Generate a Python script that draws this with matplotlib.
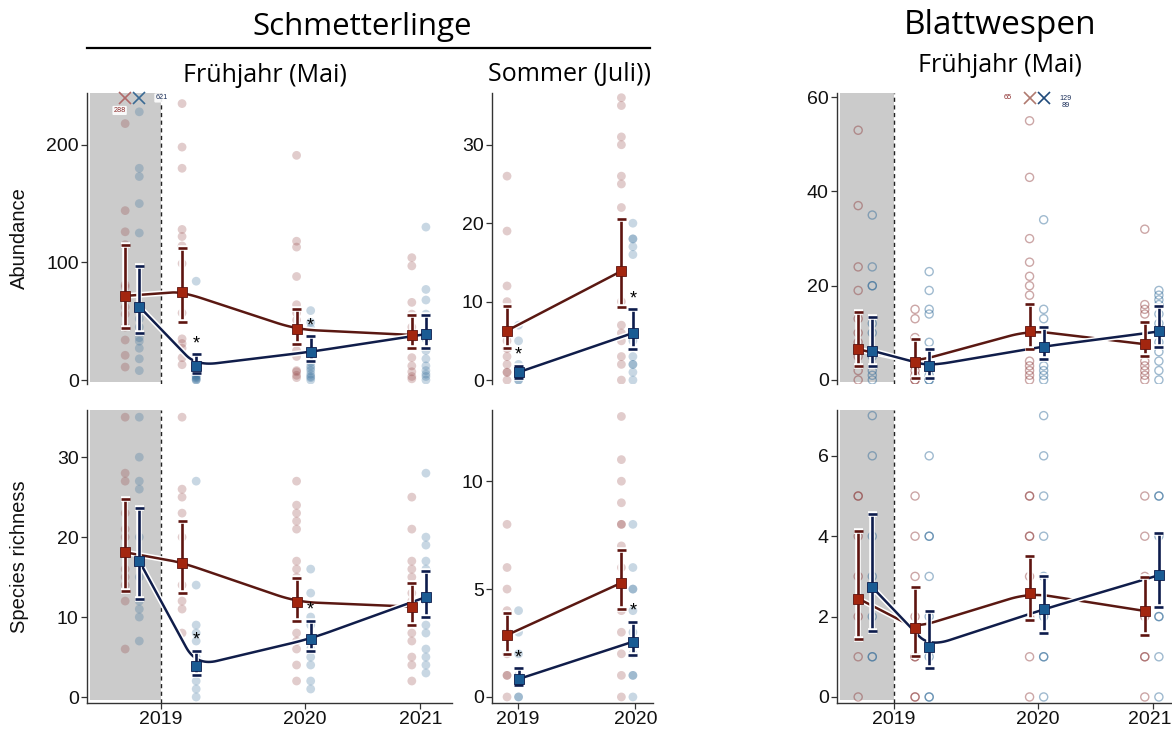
import numpy as np
import matplotlib
matplotlib.use("Agg")
import matplotlib.pyplot as plt
from matplotlib import patheffects as pe
from matplotlib.lines import Line2D
from matplotlib.patches import Rectangle
from matplotlib.transforms import blended_transform_factory, ScaledTranslation

plt.rcParams['font.family'] = ['Liberation Sans', 'DejaVu Sans']

# ---------------------------------------------------------------- data
# sampling rounds on a shared time axis (2019 tick = 0)
spring_pos = [-0.20, 0.195, 0.99, 1.79]
summer_pos = [-0.043, 0.93]
spring_ticks = [0.0, 1.0, 1.8]
spring_ticklabels = ["2019", "2020", "2021"]
summer_ticks = [0.0, 1.0]
summer_ticklabels = ["2019", "2020"]

# Schmetterlinge, Frühjahr: abundance
bf_spr_ab_ctrl_mean = [71.5, 75.0, 43.0, 38.3]
bf_spr_ab_ctrl_lo = [44.0, 49.7, 30.4, 27.0]
bf_spr_ab_ctrl_hi = [115.0, 112.6, 60.7, 55.0]
bf_spr_ab_trt_mean = [62.4, 12.2, 24.0, 39.0]
bf_spr_ab_trt_lo = [40.0, 6.0, 16.0, 27.0]
bf_spr_ab_trt_hi = [96.5, 21.8, 37.0, 55.0]
bf_spr_ab_ctrl_pts = [
    [218, 144, 126, 115, 81, 79, 70, 62, 56, 45, 34, 21, 11],
    [235, 198, 180, 128, 122, 114, 99, 57, 35, 31, 27, 19, 13],
    [191, 118, 113, 88, 64, 57, 51, 25, 20, 8, 7, 4, 2],
    [104, 97, 66, 56, 45, 35, 19, 12, 7, 3, 1],
]
bf_spr_ab_trt_pts = [
    [228, 180, 173, 150, 125, 60, 52, 45, 36, 33, 27, 18, 8],
    [84, 10, 8, 6, 4, 3, 2, 1, 0, 0],
    [59, 49, 44, 15, 12, 10, 8, 5, 3, 2, 0],
    [130, 77, 68, 56, 35, 25, 18, 12, 8, 5, 3, 0],
]
bf_spr_ab_stars = [False, True, True, False]

# Schmetterlinge, Frühjahr: species richness
bf_spr_sr_ctrl_mean = [18.1, 16.8, 11.9, 11.3]
bf_spr_sr_ctrl_lo = [13.2, 13.0, 9.5, 9.0]
bf_spr_sr_ctrl_hi = [24.8, 22.0, 14.9, 14.3]
bf_spr_sr_trt_mean = [17.0, 3.9, 7.3, 12.5]
bf_spr_sr_trt_lo = [12.3, 2.75, 5.7, 10.0]
bf_spr_sr_trt_hi = [23.6, 5.8, 9.5, 15.7]
bf_spr_sr_ctrl_pts = [
    [35, 28, 27, 23, 21, 20, 18, 16, 15, 14, 12, 6],
    [35, 26, 25, 23, 20, 17, 14, 12, 11, 8],
    [27, 24, 23, 22, 21, 17, 16, 15, 8, 7, 6, 4, 2],
    [25, 21, 17, 16, 15, 13, 12, 11, 8, 7, 5, 4, 2],
]
bf_spr_sr_trt_pts = [
    [35, 30, 27, 26, 20, 17, 15, 12, 11, 10, 7],
    [27, 14, 9, 8, 7, 5, 4, 3, 2, 1, 0],
    [16, 13, 10, 9, 7, 6, 5, 4, 2, 1],
    [28, 20, 19, 17, 16, 12, 9, 8, 6, 5, 4, 3],
]
bf_spr_sr_stars = [False, True, True, False]

# Schmetterlinge, Sommer: abundance
bf_sum_ab_ctrl_mean = [6.3, 13.9]
bf_sum_ab_ctrl_lo = [4.1, 9.3]
bf_sum_ab_ctrl_hi = [9.5, 20.5]
bf_sum_ab_trt_mean = [1.0, 6.0]
bf_sum_ab_trt_lo = [0.3, 4.0]
bf_sum_ab_trt_hi = [1.8, 9.0]
bf_sum_ab_ctrl_pts = [
    [26, 19, 12, 10, 5, 4, 3, 2, 1, 1, 0],
    [36, 35, 31, 30, 26, 25, 22, 10, 7, 6, 5, 3, 2, 0],
]
bf_sum_ab_trt_pts = [
    [7, 5, 2, 1, 0, 0],
    [20, 18, 18, 17, 16, 5, 3, 2, 2, 1, 0],
]
bf_sum_ab_stars = [True, True]

# Schmetterlinge, Sommer: species richness
bf_sum_sr_ctrl_mean = [2.87, 5.29]
bf_sum_sr_ctrl_lo = [2.0, 4.07]
bf_sum_sr_ctrl_hi = [3.87, 6.8]
bf_sum_sr_trt_mean = [0.83, 2.56]
bf_sum_sr_trt_lo = [0.55, 1.94]
bf_sum_sr_trt_hi = [1.33, 3.49]
bf_sum_sr_ctrl_pts = [
    [8, 6, 5, 4, 3, 2, 1, 1, 0],
    [13, 11, 10, 9, 8, 8, 7, 6, 4, 3, 2, 1, 0],
]
bf_sum_sr_trt_pts = [
    [4, 3, 2, 1, 0, 0],
    [8, 6, 5, 5, 4, 3, 2, 1, 1, 0],
]
bf_sum_sr_stars = [True, True]

# Blattwespen, Frühjahr: abundance
sf_spr_ab_ctrl_mean = [6.5, 3.9, 10.5, 7.6]
sf_spr_ab_ctrl_lo = [3.0, 0.5, 6.5, 5.0]
sf_spr_ab_ctrl_hi = [14.5, 8.7, 16.2, 12.3]
sf_spr_ab_trt_mean = [6.2, 3.0, 7.1, 10.3]
sf_spr_ab_trt_lo = [3.0, 0.5, 4.4, 6.9]
sf_spr_ab_trt_hi = [13.3, 6.6, 11.2, 15.6]
sf_spr_ab_ctrl_pts = [
    [53, 37, 24, 19, 13, 10, 8, 5, 2, 0],
    [15, 13, 9, 3, 2, 1, 0, 0],
    [55, 43, 30, 25, 22, 20, 18, 4, 3, 2, 1, 0],
    [32, 16, 15, 14, 4, 3, 2, 1, 0],
]
sf_spr_ab_trt_pts = [
    [35, 24, 20, 20, 12, 10, 5, 2, 1, 0],
    [23, 19, 15, 14, 8, 3, 1, 0, 0],
    [34, 15, 13, 3, 2, 1, 0],
    [19, 18, 17, 16, 14, 12, 10, 8, 6, 4, 2, 0],
]

# Blattwespen, Frühjahr: species richness
sf_spr_sr_ctrl_mean = [2.45, 1.72, 2.59, 2.14]
sf_spr_sr_ctrl_lo = [1.44, 1.03, 1.92, 1.53]
sf_spr_sr_ctrl_hi = [4.14, 2.74, 3.51, 2.98]
sf_spr_sr_trt_mean = [2.73, 1.25, 2.18, 3.03]
sf_spr_sr_trt_lo = [1.64, 0.73, 1.58, 2.25]
sf_spr_sr_trt_hi = [4.54, 2.15, 3.01, 4.07]
sf_spr_sr_ctrl_pts = [
    [5, 5, 4, 3, 2, 1, 0],
    [5, 4, 3, 2, 1, 1, 0, 0],
    [5, 5, 4, 4, 3, 2, 1, 0],
    [5, 4, 3, 2, 1, 1, 0],
]
sf_spr_sr_trt_pts = [
    [7, 6, 4, 3, 2, 1, 1],
    [6, 4, 4, 3, 2, 1, 0, 0],
    [7, 6, 5, 4, 3, 2, 1, 1, 0],
    [5, 5, 4, 3, 2, 2, 1, 0],
]

# values beyond the axis range (round index, label text)
bf_spr_ab_ctrl_off = [(0, "288")]
bf_spr_ab_trt_off = [(0, "621")]
sf_spr_ab_ctrl_off = [(2, "65")]
sf_spr_ab_trt_off = [(2, "129\n89")]

# ---------------------------------------------------------------- style
W, H = 1172, 751
CTRL_PT, TRT_PT = '#8e3b3b', '#2c6796'
CTRL_MEAN, TRT_MEAN = '#a3260f', '#1a5b93'
CTRL_BAR, TRT_BAR = '#5e1410', '#0d1c4c'
CTRL_LINE, TRT_LINE = '#5a1812', '#101d4a'
AX_COL = '#333333'
DODGE = 0.049
HALO = [pe.withStroke(linewidth=4.0, foreground='white')]

fig = plt.figure(figsize=(W / 100, H / 100), dpi=100)


def add_axes(l, t, r, b):
    return fig.add_axes([l / W, 1 - b / H, (r - l) / W, (b - t) / H])


def rounded_path(x, y, cut=0.18, n=20):
    """Polyline through the means with softly rounded interior corners."""
    p = np.column_stack([x, y]).astype(float)
    out = [p[0]]
    for i in range(1, len(p) - 1):
        a = p[i] + cut * (p[i - 1] - p[i])
        b = p[i] + cut * (p[i + 1] - p[i])
        t = np.linspace(0, 1, n)[:, None]
        curve = (1 - t) ** 2 * a + 2 * (1 - t) * t * p[i] + t ** 2 * b
        out.extend(curve)
    out.append(p[-1])
    out = np.array(out)
    return out[:, 0], out[:, 1]


def draw_series(ax, pos, mean, lo, hi, pts, side, pt_col, mean_col, bar_col,
                line_col, open_pts, stars=None):
    xs = [p + side * DODGE for p in pos]
    for x, vals in zip(xs, pts):
        if open_pts:
            ax.scatter([x] * len(vals), vals, s=34, facecolors='none',
                       edgecolors=pt_col, linewidths=1.0, alpha=0.45, zorder=2)
        else:
            ax.scatter([x] * len(vals), vals, s=40, color=pt_col,
                       edgecolors='none', alpha=0.26, zorder=2)
    sx, sy = rounded_path(xs, mean)
    ax.plot(sx, sy, color=line_col, lw=1.8, zorder=3, path_effects=HALO,
            solid_capstyle='round')
    mean = np.asarray(mean)
    yerr = [mean - np.asarray(lo), np.asarray(hi) - mean]
    cont = ax.errorbar(xs, mean, yerr=yerr, fmt='none', ecolor=bar_col,
                       elinewidth=1.9, capsize=3.2, capthick=1.9, zorder=4)
    for art in list(cont.lines[1]) + list(cont.lines[2]):
        art.set_path_effects(HALO)
    ax.plot(xs, mean, 's', ms=6.5, color=mean_col, mec=bar_col, mew=0.6,
            zorder=5)
    if stars:
        for x, h, s in zip(xs, hi, stars):
            if s:
                ax.annotate('*', (x, h), xytext=(0, 1.5), textcoords='offset points',
                            ha='center', va='bottom', fontsize=13, color='black',
                            zorder=6)


def draw_offscale(ax, pos, side, items, col, label_col, dx, dy):
    tr = blended_transform_factory(ax.transData, ax.transAxes)
    for idx, label in items:
        x = pos[idx] + side * DODGE
        ax.plot([x], [0.983], marker='x', ms=8, mew=1.2, color=col,
                transform=tr, clip_on=False, zorder=6)
        ax.annotate(label, (x, 0.983), xycoords=tr, xytext=(dx, dy),
                    textcoords='offset points', ha='center', va='center',
                    fontsize=5.2, color=label_col, linespacing=1.0,
                    bbox=dict(boxstyle='round,pad=0.15', fc='white', ec='none', alpha=0.9),
                    zorder=7, annotation_clip=False)


def style_axes(ax, xlim, ylim, yticks, bottom, xticks=None, xticklabels=None):
    ax.set_xlim(*xlim)
    ax.set_ylim(*ylim)
    ax.set_yticks(yticks)
    ax.set_yticklabels([str(v) for v in yticks])
    for s in ('top', 'right'):
        ax.spines[s].set_visible(False)
    ax.spines['left'].set_color(AX_COL)
    ax.spines['left'].set_linewidth(1.0)
    ax.tick_params(axis='both', direction='out', length=4, width=0.9,
                   color=AX_COL, labelcolor='#111111', labelsize=14, pad=2)
    if bottom:
        ax.spines['bottom'].set_color(AX_COL)
        ax.spines['bottom'].set_linewidth(1.0)
        ax.set_xticks(xticks)
        ax.set_xticklabels(xticklabels)
    else:
        ax.spines['bottom'].set_visible(False)
        ax.set_xticks([])


def pre_period(ax, x0, ylim):
    ax.add_patch(Rectangle((x0, ylim[0] * 0.5), 0 - x0, ylim[1] - ylim[0] * 0.5,
                           facecolor='#cbcbcb', edgecolor='none', zorder=0))
    ax.axvline(0, color='#222222', lw=1.0, ls=(0, (3, 2.5)), zorder=1)


# ---------------------------------------------------------------- panels
left_xlim = (-0.514, 2.02)
sum_xlim = (-0.22, 1.15)
right_xlim = (-0.396, 1.93)

panels = [
    dict(box=(87, 93, 452, 384), xlim=left_xlim, ylim=(-3.4, 244), yt=[0, 100, 200],
         bottom=False, pos=spring_pos, open=False, pre=-0.49,
         ctrl=(bf_spr_ab_ctrl_mean, bf_spr_ab_ctrl_lo, bf_spr_ab_ctrl_hi, bf_spr_ab_ctrl_pts),
         trt=(bf_spr_ab_trt_mean, bf_spr_ab_trt_lo, bf_spr_ab_trt_hi, bf_spr_ab_trt_pts),
         stars=bf_spr_ab_stars, ylabel='Abundance'),
    dict(box=(87, 410, 452, 703), xlim=left_xlim, ylim=(-0.75, 35.9), yt=[0, 10, 20, 30],
         bottom=True, pos=spring_pos, open=False, pre=-0.49,
         ctrl=(bf_spr_sr_ctrl_mean, bf_spr_sr_ctrl_lo, bf_spr_sr_ctrl_hi, bf_spr_sr_ctrl_pts),
         trt=(bf_spr_sr_trt_mean, bf_spr_sr_trt_lo, bf_spr_sr_trt_hi, bf_spr_sr_trt_pts),
         stars=bf_spr_sr_stars, ylabel='Species richness',
         xt=spring_ticks, xtl=spring_ticklabels),
    dict(box=(492, 93, 653, 384), xlim=sum_xlim, ylim=(-0.5, 36.6), yt=[0, 10, 20, 30],
         bottom=False, pos=summer_pos, open=False, pre=None,
         ctrl=(bf_sum_ab_ctrl_mean, bf_sum_ab_ctrl_lo, bf_sum_ab_ctrl_hi, bf_sum_ab_ctrl_pts),
         trt=(bf_sum_ab_trt_mean, bf_sum_ab_trt_lo, bf_sum_ab_trt_hi, bf_sum_ab_trt_pts),
         stars=bf_sum_ab_stars, ylabel=None),
    dict(box=(492, 410, 653, 703), xlim=sum_xlim, ylim=(-0.28, 13.3), yt=[0, 5, 10],
         bottom=True, pos=summer_pos, open=False, pre=None,
         ctrl=(bf_sum_sr_ctrl_mean, bf_sum_sr_ctrl_lo, bf_sum_sr_ctrl_hi, bf_sum_sr_ctrl_pts),
         trt=(bf_sum_sr_trt_mean, bf_sum_sr_trt_lo, bf_sum_sr_trt_hi, bf_sum_sr_trt_pts),
         stars=bf_sum_sr_stars, ylabel=None,
         xt=summer_ticks, xtl=summer_ticklabels),
    dict(box=(837, 93, 1172, 384), xlim=right_xlim, ylim=(-0.85, 60.9), yt=[0, 20, 40, 60],
         bottom=False, pos=spring_pos, open=True, pre=-0.375,
         ctrl=(sf_spr_ab_ctrl_mean, sf_spr_ab_ctrl_lo, sf_spr_ab_ctrl_hi, sf_spr_ab_ctrl_pts),
         trt=(sf_spr_ab_trt_mean, sf_spr_ab_trt_lo, sf_spr_ab_trt_hi, sf_spr_ab_trt_pts),
         stars=None, ylabel=None),
    dict(box=(837, 410, 1172, 703), xlim=right_xlim, ylim=(-0.15, 7.14), yt=[0, 2, 4, 6],
         bottom=True, pos=spring_pos, open=True, pre=-0.375,
         ctrl=(sf_spr_sr_ctrl_mean, sf_spr_sr_ctrl_lo, sf_spr_sr_ctrl_hi, sf_spr_sr_ctrl_pts),
         trt=(sf_spr_sr_trt_mean, sf_spr_sr_trt_lo, sf_spr_sr_trt_hi, sf_spr_sr_trt_pts),
         stars=None, ylabel=None,
         xt=spring_ticks, xtl=spring_ticklabels),
]

axes = []
for p in panels:
    ax = add_axes(*p['box'])
    ax.patch.set_alpha(0)
    style_axes(ax, p['xlim'], p['ylim'], p['yt'], p['bottom'], p.get('xt'), p.get('xtl'))
    if p['pre'] is not None:
        pre_period(ax, p['pre'], p['ylim'])
    draw_series(ax, p['pos'], *p['ctrl'], side=-1, pt_col=CTRL_PT, mean_col=CTRL_MEAN,
                bar_col=CTRL_BAR, line_col=CTRL_LINE, open_pts=p['open'])
    draw_series(ax, p['pos'], *p['trt'], side=+1, pt_col=TRT_PT, mean_col=TRT_MEAN,
                bar_col=TRT_BAR, line_col=TRT_LINE, open_pts=p['open'], stars=p['stars'])
    if p['ylabel']:
        ax.set_ylabel(p['ylabel'], fontsize=14.5, color='#111111')
        ax.yaxis.set_label_coords(-0.16, 0.5)
    axes.append(ax)

# keep the last year label of the right-hand panel inside the canvas
last_lbl = axes[5].get_xticklabels()[-1]
last_lbl.set_transform(last_lbl.get_transform()
                       + ScaledTranslation(-4 / 100, 0, fig.dpi_scale_trans))

draw_offscale(axes[0], spring_pos, -1, bf_spr_ab_ctrl_off, '#b06a6a', '#8a2a2a', -4, -9)
draw_offscale(axes[0], spring_pos, +1, bf_spr_ab_trt_off, '#3a6a94', '#1b2f5a', 16, 0)
draw_offscale(axes[4], spring_pos, -1, sf_spr_ab_ctrl_off, '#b07a70', '#8a2a2a', -16, 0)
draw_offscale(axes[4], spring_pos, +1, sf_spr_ab_trt_off, '#1f4a7a', '#1b2f5a', 16, -3)

# ---------------------------------------------------------------- headings
head_font = ['Open Sans', 'DejaVu Sans']
fig.text(362 / W, 1 - 27 / H, 'Schmetterlinge', ha='center', va='center',
         fontsize=22.5, family=head_font)
fig.add_artist(Line2D([87 / W, 650 / W], [1 - 48 / H, 1 - 48 / H],
                      transform=fig.transFigure, color='black', lw=1.6))
fig.text(265 / W, 1 - 75 / H, 'Frühjahr (Mai)', ha='center', va='center',
         fontsize=18, family=head_font)
fig.text(570 / W, 1 - 75 / H, 'Sommer (Juli))', ha='center', va='center',
         fontsize=18, family=head_font)
fig.text(1000 / W, 1 - 25 / H, 'Blattwespen', ha='center', va='center',
         fontsize=24, family=head_font)
fig.text(1000 / W, 1 - 65 / H, 'Frühjahr (Mai)', ha='center', va='center',
         fontsize=18, family=head_font)

fig.savefig('out.png', dpi=100, facecolor='white')
